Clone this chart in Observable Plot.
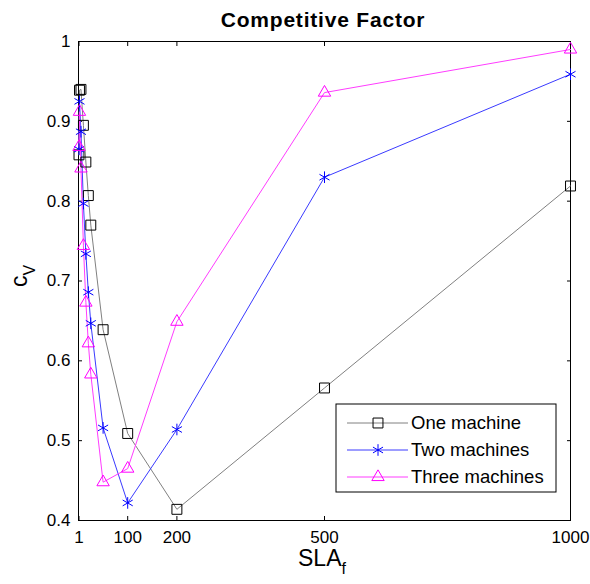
<!DOCTYPE html>
<html><head><meta charset="utf-8">
<script src="https://cdn.jsdelivr.net/npm/d3@7"></script>
<script src="https://cdn.jsdelivr.net/npm/@observablehq/plot@0.6"></script>
<style>
body{margin:0;background:#fff}
svg{font-family:"Liberation Sans",Arial,sans-serif}
</style>
</head><body><div id="chart"></div>
<script>
// ---- data ----
const sla = [1, 2, 5, 10, 15, 20, 25, 50, 100, 200, 500, 1000];
const oneMachine    = [0.858, 0.939, 0.940, 0.895, 0.849, 0.807, 0.770, 0.639, 0.509, 0.414, 0.566, 0.819];
const twoMachines   = [0.865, 0.925, 0.887, 0.797, 0.734, 0.686, 0.647, 0.516, 0.422, 0.514, 0.830, 0.959];
const threeMachines = [0.868, 0.912, 0.841, 0.744, 0.673, 0.622, 0.583, 0.448, 0.465, 0.649, 0.936, 0.990];
const seriesNames = ["One machine", "Two machines", "Three machines"];
const xTicks = [1, 100, 200, 500, 1000];
const yTicks = [0.4, 0.5, 0.6, 0.7, 0.8, 0.9, 1];
const titleText = "Competitive Factor";

const lineColors = ["#808080", "#3a3aff", "#ff3cff"];
const markColors = ["#000000", "#0000ff", "#ff00ff"];
const symbols = ["square", "asterisk", "triangle"];
const radii = [5.6, 5.5, 4.6];

const seriesValues = [oneMachine, twoMachines, threeMachines];
const rows = seriesNames.map((name, k) => sla.map((x, i) => ({x, y: seriesValues[k][i], name})));

const tickFmt = d => String(d);
const marks = [
  Plot.frame({stroke: "black", strokeWidth: 1}),
  Plot.axisX(xTicks, {anchor: "bottom", tickSize: -4, tickPadding: 14, tickFormat: tickFmt, fontSize: 17, label: null}),
  Plot.axisX(xTicks, {anchor: "top", tickSize: -4, tickFormat: () => "", label: null}),
  Plot.axisY(yTicks, {anchor: "left", tickSize: -4, tickPadding: 12, tickFormat: tickFmt, fontSize: 17, label: null}),
  Plot.axisY(yTicks, {anchor: "right", tickSize: -4, tickFormat: () => "", label: null}),
];
rows.forEach((data, k) => {
  marks.push(Plot.line(data, {x: "x", y: "y", stroke: lineColors[k], strokeWidth: 1}));
});
rows.forEach((data, k) => {
  marks.push(Plot.dot(data, {x: "x", y: "y", symbol: symbols[k], r: radii[k], stroke: markColors[k], fill: "none", strokeWidth: 1}));
});

const chart = Plot.plot({
  width: 590, height: 584,
  marginTop: 41, marginLeft: 78, marginRight: 20, marginBottom: 64,
  x: {type: "linear", domain: [0, 1000]},
  y: {type: "linear", domain: [0.4, 1]},
  style: {background: "white", fontFamily: "Liberation Sans, Arial, sans-serif", overflow: "visible"},
  marks
});
document.getElementById("chart").appendChild(chart);

// ---- title, axis labels with subscripts, legend ----
const svg = d3.select(chart);
svg.append("text").attr("x", 323).attr("y", 27).attr("text-anchor", "middle")
  .attr("font-size", 21).attr("font-weight", "bold").attr("letter-spacing", "0.8px")
  .attr("fill", "black").text(titleText);

const xl = svg.append("text").attr("x", 322).attr("y", 566).attr("text-anchor", "middle")
  .attr("font-size", 23).attr("fill", "black");
xl.append("tspan").text("SLA");
xl.append("tspan").attr("font-size", 16).attr("dy", 8).text("f");

const yl = svg.append("text").attr("transform", "translate(27,276) rotate(-90)").attr("text-anchor", "middle")
  .attr("font-size", 23).attr("fill", "black");
yl.append("tspan").text("c");
yl.append("tspan").attr("font-size", 16).attr("dy", 8).text("V");

const lg = svg.append("g").attr("text-anchor", "start");
lg.append("rect").attr("x", 336).attr("y", 404).attr("width", 220).attr("height", 88)
  .attr("fill", "white").attr("stroke", "black");
seriesNames.forEach((name, k) => {
  const cy = 423 + k * 27;
  lg.append("line").attr("x1", 347).attr("x2", 408).attr("y1", cy).attr("y2", cy)
    .attr("stroke", lineColors[k]).attr("stroke-width", 1);
  const sym = {square: d3.symbolSquare, asterisk: d3.symbolAsterisk, triangle: d3.symbolTriangle}[symbols[k]];
  lg.append("path").attr("d", d3.symbol(sym, Math.PI * radii[k] * radii[k])())
    .attr("transform", `translate(378,${cy})`).attr("fill", "none").attr("stroke", markColors[k]);
  lg.append("text").attr("x", 411).attr("y", cy).attr("dy", "0.35em").attr("font-size", 18.5)
    .attr("text-anchor", "start").attr("fill", "black").text(name);
});
</script>
</body></html>
